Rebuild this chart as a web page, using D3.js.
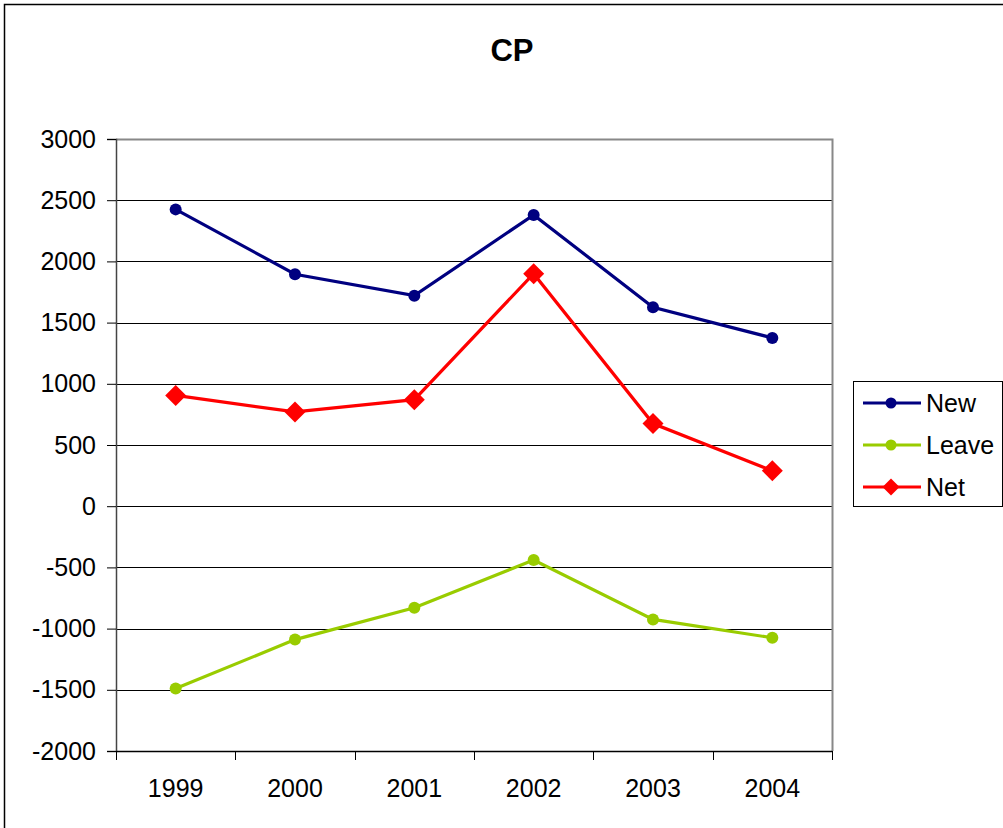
<!DOCTYPE html>
<html>
<head>
<meta charset="utf-8">
<script src="https://cdn.jsdelivr.net/npm/d3@7"></script>
<style>
  html, body { margin: 0; padding: 0; background: #fff; }
  svg { display: block; font-family: "Liberation Sans", Arial, sans-serif; }
</style>
</head>
<body>
<div id="chart"></div>
<script>
// CP: new, leaving and net counts per year

const years = ["1999", "2000", "2001", "2002", "2003", "2004"];
const newValues = [2425, 1895, 1720, 2380, 1625, 1375];
const leaveValues = [-1490, -1090, -830, -440, -925, -1075];
const netValues = [905, 770, 870, 1900, 675, 290];
const yTicks = [-2000, -1500, -1000, -500, 0, 500, 1000, 1500, 2000, 2500, 3000];

const series = [
    { name: "New", values: newValues, color: "#000080", marker: "circle" },
    { name: "Leave", values: leaveValues, color: "#99CC00", marker: "circle" },
    { name: "Net", values: netValues, color: "#FF0000", marker: "diamond" }
];

function drawChart() {
    const width = 1003, height = 828;
    const plot = { left: 116, right: 832, top: 139, bottom: 751 };

    const svg = d3.select("#chart").append("svg")
        .attr("width", width)
        .attr("height", height);

    // outer frame
    svg.append("rect")
        .attr("x", 4.5).attr("y", 4.5)
        .attr("width", 1010).attr("height", 840)
        .attr("fill", "none")
        .attr("stroke", "#000")
        .attr("stroke-width", 1.5);

    svg.append("text")
        .attr("x", 512).attr("y", 61)
        .attr("text-anchor", "middle")
        .style("font-size", "31px")
        .style("font-weight", "bold")
        .text("CP");

    const x = d3.scaleBand().domain(years).range([plot.left, plot.right]);
    const y = d3.scaleLinear().domain([-2000, 3000]).range([plot.bottom, plot.top]);
    const cx = d => x(d) + x.bandwidth() / 2;

    // gridlines
    svg.append("g").selectAll("line")
        .data(yTicks.slice(1, -1))
        .enter().append("line")
        .attr("x1", plot.left).attr("x2", plot.right)
        .attr("y1", d => Math.round(y(d)) + 0.5)
        .attr("y2", d => Math.round(y(d)) + 0.5)
        .attr("stroke", "#000")
        .attr("stroke-width", 1);

    // plot area border (top/right gray)
    svg.append("path")
        .attr("d", `M${plot.left},${plot.top + 0.5}H${plot.right + 0.5}V${plot.bottom}`)
        .attr("fill", "none")
        .attr("stroke", "#888")
        .attr("stroke-width", 2);

    // y axis
    const yAxis = svg.append("g")
        .attr("transform", `translate(${plot.left},0)`)
        .call(d3.axisLeft(y).tickValues(yTicks).tickSize(9).tickPadding(11).tickFormat(d => String(d)));
    yAxis.select(".domain").attr("stroke", "#444").attr("stroke-width", 1.5);
    yAxis.selectAll(".tick line").attr("stroke", "#000");
    yAxis.selectAll(".tick text")
        .attr("fill", "#000")
        .style("font-size", "25px")
        .style("font-family", "'Liberation Sans', Arial, sans-serif");

    // x axis
    const xAxis = svg.append("g")
        .attr("transform", `translate(0,${plot.bottom})`)
        .call(d3.axisBottom(x).tickSize(0).tickPadding(28));
    xAxis.select(".domain").attr("stroke", "#000").attr("stroke-width", 1.5);
    xAxis.selectAll(".tick text")
        .attr("fill", "#000")
        .style("font-size", "25px")
        .style("font-family", "'Liberation Sans', Arial, sans-serif");
    const edges = years.map(d => x(d)).concat([x(years[years.length - 1]) + x.bandwidth()]);
    xAxis.selectAll(".edge")
        .data(edges)
        .enter().append("line")
        .attr("class", "edge")
        .attr("x1", d => Math.round(d) + 0.5).attr("x2", d => Math.round(d) + 0.5)
        .attr("y1", 0).attr("y2", 9)
        .attr("stroke", "#000");

    const line = d3.line()
        .x((v, i) => cx(years[i]))
        .y(v => y(v));

    const diamond = s => `M0,${-s}L${s},0L0,${s}L${-s},0Z`;

    series.forEach(s => {
        const g = svg.append("g");
        g.append("path")
            .datum(s.values)
            .attr("d", line)
            .attr("fill", "none")
            .attr("stroke", s.color)
            .attr("stroke-width", 3.2);

        if (s.marker === "circle") {
            g.selectAll("circle")
                .data(s.values)
                .enter().append("circle")
                .attr("cx", (v, i) => cx(years[i]))
                .attr("cy", v => y(v))
                .attr("r", 6)
                .attr("fill", s.color);
        } else {
            g.selectAll("path.mk")
                .data(s.values)
                .enter().append("path")
                .attr("class", "mk")
                .attr("d", diamond(10.5))
                .attr("transform", (v, i) => `translate(${cx(years[i])},${y(v)})`)
                .attr("fill", s.color);
        }
    });

    // legend
    const legend = svg.append("g").attr("transform", "translate(853,381)");
    legend.append("rect")
        .attr("x", 0.5).attr("y", 0.5)
        .attr("width", 149).attr("height", 125)
        .attr("fill", "#fff")
        .attr("stroke", "#000")
        .attr("stroke-width", 1);

    const items = legend.selectAll(".item")
        .data(series)
        .enter().append("g")
        .attr("class", "item")
        .attr("transform", (d, i) => `translate(0,${22 + i * 42})`);
    items.append("line")
        .attr("x1", 10).attr("x2", 68)
        .attr("stroke", d => d.color)
        .attr("stroke-width", 3.2);
    items.each(function (d) {
        const it = d3.select(this);
        if (d.marker === "circle") {
            it.append("circle").attr("cx", 38).attr("r", 5.5).attr("fill", d.color);
        } else {
            it.append("path").attr("d", diamond(8.5))
                .attr("transform", "translate(38,0)").attr("fill", d.color);
        }
    });
    items.append("text")
        .attr("x", 73).attr("dy", "0.35em")
        .style("font-size", "25px")
        .text(d => d.name);
}

drawChart();
</script>
</body>
</html>
